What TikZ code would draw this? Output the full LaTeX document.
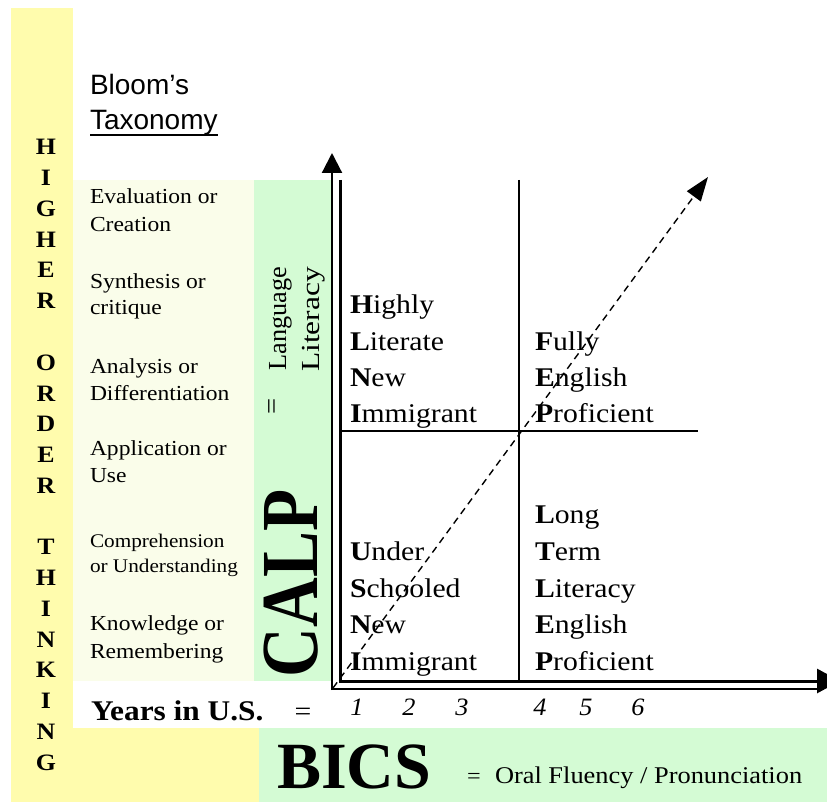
\documentclass[tikz,border=0pt]{standalone}
\usepackage{fontspec}
\usepackage{graphicx}
\setmainfont{Liberation Serif}[FakeStretch=1.1,
  UprightFont=* ,BoldFont=* Bold,ItalicFont=* Italic,BoldItalicFont=* Bold Italic]
\newfontfamily\plainserif{Liberation Serif}
\newfontfamily\itserif{Liberation Serif Italic}[FakeStretch=1.05]
\newfontfamily\blsans{Liberation Sans}
\usetikzlibrary{arrows.meta}
\definecolor{ylw}{RGB}{255,252,173}
\definecolor{grn}{RGB}{212,251,212}
\definecolor{crm}{RGB}{250,253,234}
\newcommand\fsz[1]{\fontsize{#1}{#1}\selectfont}
\begin{document}
\begin{tikzpicture}[x=1pt,y=-1pt,
  every node/.style={inner sep=0pt,outer sep=0pt},
  lvl/.style={anchor=base west,font=\fsz{21.4}},
  lvlsmall/.style={anchor=base west,font=\fsz{19.3}},
  quad/.style={anchor=base west,font=\fsz{27}},
  vlet/.style={anchor=base,font=\bfseries\fsz{23.5}},
  yr/.style={anchor=base,font=\itserif\fsz{25}},
  axisline/.style={line width=2.2pt},
  inneraxis/.style={line width=3pt},
  quadline/.style={line width=2pt}]
\useasboundingbox (0,0) rectangle (827,802);
\fill[white] (0,0) rectangle (827,802);
% background panels
\fill[ylw] (11,8) rectangle (73,802);
\fill[ylw] (11,728) rectangle (259,802);
\fill[crm] (73,180) rectangle (254,681);
\fill[grn] (254,180) rectangle (331,681);
\fill[grn] (259,728) rectangle (827,802);
% Bloom's Taxonomy
\node[anchor=base west,font=\blsans\fsz{28}] (bloom) at (90,95) {Bloom’s};
\node[anchor=base west,font=\blsans\fsz{28}] (tax) at (90,130) {Taxonomy};
\draw[line width=2pt] ([yshift=-5pt]tax.base west) -- ([yshift=-5pt]tax.base east);
% HIGHER ORDER THINKING
\foreach \i/\c in {1/H,2/I,3/G,4/H,5/E,6/R,8/O,9/R,10/D,11/E,12/R,14/T,15/H,16/I,17/N,18/K,19/I,20/N,21/G}
  \node[vlet] (hot\i) at (46,{155+30.75*(\i-1)}) {\c};
% taxonomy levels
\foreach \y/\t [count=\i] in {204/Evaluation or,232/Creation,288/Synthesis or,315/critique,373/Analysis or,400/Differentiation,455/Application or,482/Use,630/Knowledge or,658/Remembering}
  \node[lvl] (lv\i) at (90,\y) {\t};
\node[lvlsmall] (comp1) at (90,547) {Comprehension};
\node[lvlsmall] (comp2) at (90,572) {or Understanding};
% CALP column
\node[rotate=90,anchor=base west,font=\plainserif\bfseries\fsz{81}] (calp) at (317,677) {\scalebox{0.85}[1]{CALP}};
\node[rotate=90,anchor=base east,font=\fsz{26}] (lang) at (286,267) {\scalebox{0.92}[1]{Language}};
\node[rotate=90,anchor=base east,font=\fsz{26}] (lit) at (319,267) {\scalebox{1.1}[1]{Literacy}};
\node[rotate=90,anchor=center,font=\fsz{26}] (eqcalp) at (275,406) {=};
% axes
\coordinate (ocorner) at (332,689);
\coordinate (otop) at (332,153);
\coordinate (oright) at (817,689);
\coordinate (icorner) at (340,681);
\coordinate (itop) at (340,180);
\coordinate (iright) at (840,681);
\draw[axisline,-{Triangle[length=20pt,width=20pt]}] ([yshift=-1.1pt]ocorner) -- (otop);
\draw[axisline] ([xshift=-1.1pt]ocorner) -- (oright);
\draw[inneraxis] (itop) -- ([yshift=-1.5pt]icorner);
\draw[inneraxis,-{Triangle[length=23pt,width=24pt]}] ([xshift=-1.5pt]icorner) -- (iright);
% quadrant lines
\coordinate (vqt) at (519,180);
\coordinate (vqb) at (519,680);
\coordinate (hql) at (341,431);
\coordinate (hqr) at (698,431);
\draw[quadline] (vqt) -- (vqb);
\draw[quadline] (hql) -- (hqr);
% dashed diagonal
\coordinate (dstart) at (333,688);
\coordinate (dend) at (708,177);
\draw[line width=1.4pt,dash pattern=on 7pt off 5pt,-{Triangle[length=24pt,width=17pt]}] (dstart) -- (dend);
% quadrant texts
\foreach \y/\t [count=\i] in {313/\textbf{H}ighly,350/\textbf{L}iterate,386/\textbf{N}ew,422/\textbf{I}mmigrant}
  \node[quad] (hlni\i) at (350,\y) {\t};
\foreach \y/\t [count=\i] in {350/\textbf{F}ully,386/\textbf{E}nglish,422/\textbf{P}roficient}
  \node[quad] (fep\i) at (535,\y) {\t};
\foreach \y/\t [count=\i] in {560/\textbf{U}nder,597/\textbf{S}chooled,633/\textbf{N}ew,670/\textbf{I}mmigrant}
  \node[quad] (usni\i) at (350,\y) {\t};
\foreach \y/\t [count=\i] in {523/\textbf{L}ong,560/\textbf{T}erm,597/\textbf{L}iteracy,633/\textbf{E}nglish,670/\textbf{P}roficient}
  \node[quad] (ltlep\i) at (535,\y) {\t};
% years row
\node[anchor=base west,font=\bfseries\fsz{28.5}] (years) at (91,720) {Years in U.S.};
\node[anchor=base,font=\fsz{27}] (yeq) at (303,720) {=};
\foreach \x/\n in {357/1,409/2,462/3,540/4,586/5,638/6}
  \node[yr] (yr\n) at (\x,715) {\n};
% BICS
\node[anchor=base west,font=\plainserif\bfseries\fsz{66}] (bics) at (277,788) {BICS};
\node[anchor=base,font=\fsz{22}] (beq) at (474,783) {=};
\node[anchor=base west,font=\fsz{24}] (oral) at (495,783) {Oral Fluency / Pronunciation};
\end{tikzpicture}
\end{document}
